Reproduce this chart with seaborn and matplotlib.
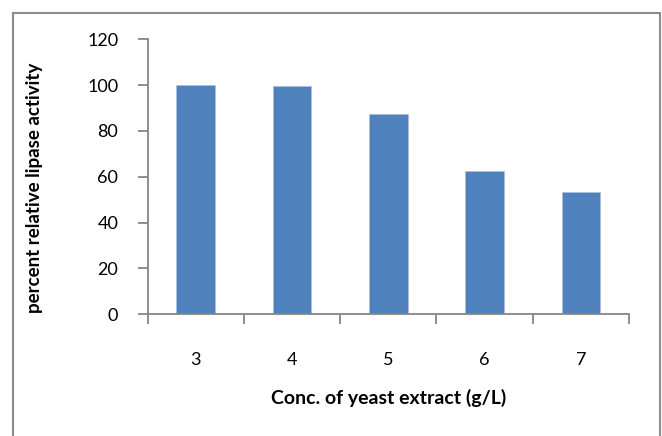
import matplotlib
matplotlib.use("Agg")
import matplotlib.pyplot as plt
import seaborn as sns
import pandas as pd
from matplotlib.patches import Rectangle

concentrations = ["3", "4", "5", "6", "7"]
activity = [100, 99.5, 87.5, 62.5, 53.2]
y_ticks = [0, 20, 40, 60, 80, 100, 120]

sns.set_style("white")
plt.rcParams['font.family'] = ['Lato', 'DejaVu Sans']

W, H = 662, 436
fig = plt.figure(figsize=(W / 100, H / 100), dpi=100)
ax = fig.add_axes([147.5 / W, 1 - 314.3 / H, (629 - 147.5) / W, (314.3 - 39.3) / H])

df = pd.DataFrame({"conc": concentrations, "activity": activity})
sns.barplot(data=df, x="conc", y="activity", ax=ax, color="#4F81BD",
            width=0.4, saturation=1, edgecolor="#A9C0E0", linewidth=0.6)

axis_color = "#868686"
ax.set_xlim(-0.5, len(concentrations) - 0.5)
ax.set_ylim(0, 120)
ax.set_yticks(y_ticks)
ax.set_yticklabels([str(t) for t in y_ticks], fontsize=13, color="black")

# category boundary ticks (major) and centred labels (minor)
ax.set_xticks([i - 0.5 for i in range(len(concentrations) + 1)])
ax.set_xticklabels([])
ax.set_xticks(range(len(concentrations)), minor=True)
ax.set_xticklabels(concentrations, minor=True, fontsize=13, color="black")
ax.tick_params(axis="x", which="major", direction="out", length=7, width=1.3,
               color=axis_color, bottom=True)
ax.tick_params(axis="x", which="minor", length=0, pad=27)
ax.tick_params(axis="y", direction="out", length=7, width=1.3, color=axis_color,
               left=True, pad=14)

for side in ["top", "right"]:
    ax.spines[side].set_visible(False)
for side in ["left", "bottom"]:
    ax.spines[side].set_color(axis_color)
    ax.spines[side].set_linewidth(1.3)

ax.set_xlabel("")
ax.set_ylabel("")
fig.text(389 / W, 1 - 398 / H, "Conc. of yeast extract (g/L)", ha="center",
         va="center", fontsize=14, fontweight="bold", color="black")
fig.text(35 / W, 1 - 188 / H, "percent relative lipase activity", ha="center",
         va="center", rotation=90, fontsize=13.5, fontweight="bold", color="black")

# outer chart border
fig.patches.append(Rectangle((12.5 / W, -0.05), (660 - 12.5) / W, 1.05 - 13.5 / H,
                             transform=fig.transFigure, fill=False,
                             edgecolor="#8C8C8C", linewidth=1.5))

fig.savefig("out.png", dpi=100, facecolor="white")
